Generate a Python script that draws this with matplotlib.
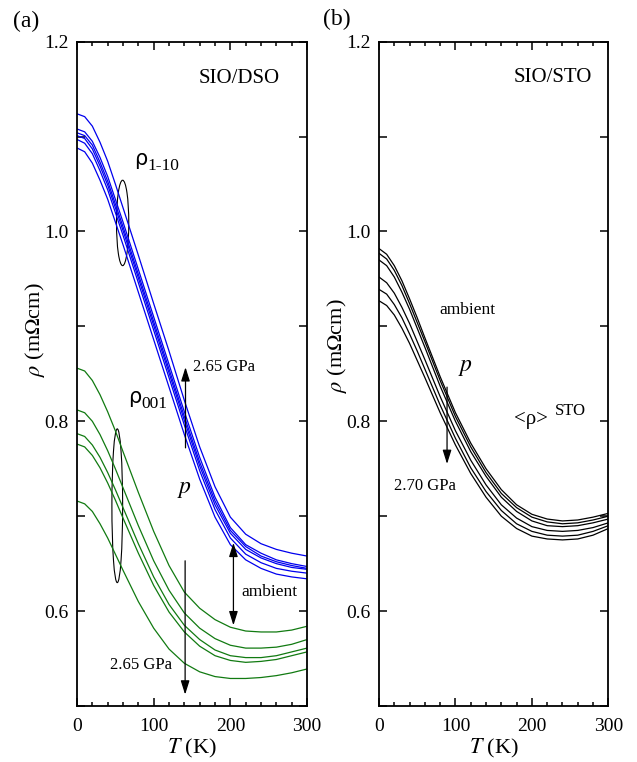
import matplotlib
matplotlib.use("Agg")
from matplotlib import pyplot as plt
from matplotlib.patches import Ellipse
import matplotlib.ticker as mtick

plt.rcParams['font.family'] = ['Liberation Serif', 'DejaVu Serif']
plt.rcParams['mathtext.fontset'] = 'stix'

# temperature grid (K) at which curves were read
temps = [0, 10, 20, 30, 40, 50, 60, 80, 100, 120, 140, 160, 180, 200, 220, 240, 260, 280, 300]

# SIO/DSO, rho_1-10 (blue), different pressures
rho_1m10 = [
    [1.124, 1.121, 1.111, 1.094, 1.074, 1.050, 1.025, 0.975, 0.924, 0.874, 0.822, 0.773, 0.731, 0.699, 0.681, 0.671, 0.665, 0.661, 0.658],
    [1.108, 1.105, 1.095, 1.078, 1.058, 1.034, 1.010, 0.960, 0.910, 0.860, 0.810, 0.762, 0.720, 0.688, 0.670, 0.661, 0.654, 0.650, 0.647],
    [1.104, 1.101, 1.091, 1.073, 1.053, 1.029, 1.005, 0.955, 0.905, 0.855, 0.805, 0.757, 0.716, 0.685, 0.668, 0.658, 0.652, 0.648, 0.645],
    [1.101, 1.098, 1.087, 1.069, 1.049, 1.025, 1.001, 0.951, 0.901, 0.851, 0.801, 0.753, 0.712, 0.682, 0.665, 0.656, 0.650, 0.646, 0.644],
    [1.097, 1.093, 1.082, 1.064, 1.044, 1.020, 0.996, 0.946, 0.896, 0.846, 0.796, 0.748, 0.707, 0.677, 0.660, 0.651, 0.645, 0.642, 0.640],
    [1.088, 1.084, 1.072, 1.054, 1.034, 1.010, 0.986, 0.936, 0.886, 0.836, 0.786, 0.739, 0.699, 0.670, 0.654, 0.645, 0.639, 0.636, 0.634],
]

# SIO/DSO, rho_001 (green)
rho_001 = [
    [0.856, 0.853, 0.843, 0.828, 0.810, 0.790, 0.768, 0.725, 0.684, 0.648, 0.620, 0.603, 0.591, 0.583, 0.579, 0.578, 0.578, 0.580, 0.584],
    [0.812, 0.809, 0.800, 0.786, 0.769, 0.750, 0.730, 0.690, 0.653, 0.622, 0.598, 0.582, 0.571, 0.564, 0.561, 0.561, 0.562, 0.565, 0.570],
    [0.787, 0.784, 0.775, 0.762, 0.746, 0.728, 0.709, 0.671, 0.636, 0.607, 0.585, 0.570, 0.559, 0.553, 0.551, 0.551, 0.553, 0.557, 0.561],
    [0.776, 0.773, 0.764, 0.751, 0.735, 0.717, 0.698, 0.661, 0.627, 0.599, 0.578, 0.563, 0.553, 0.548, 0.546, 0.547, 0.549, 0.553, 0.557],
    [0.716, 0.713, 0.705, 0.692, 0.677, 0.660, 0.643, 0.610, 0.582, 0.560, 0.545, 0.536, 0.531, 0.529, 0.529, 0.530, 0.532, 0.535, 0.539],
]

# SIO/STO, <rho> (black)
rho_sto = [
    [0.982, 0.976, 0.964, 0.948, 0.929, 0.909, 0.888, 0.847, 0.809, 0.777, 0.750, 0.728, 0.712, 0.702, 0.697, 0.695, 0.696, 0.699, 0.703],
    [0.977, 0.971, 0.959, 0.943, 0.924, 0.904, 0.884, 0.843, 0.805, 0.773, 0.746, 0.724, 0.709, 0.699, 0.694, 0.692, 0.693, 0.696, 0.700],
    [0.970, 0.964, 0.952, 0.936, 0.918, 0.898, 0.878, 0.837, 0.800, 0.768, 0.742, 0.720, 0.705, 0.695, 0.690, 0.689, 0.690, 0.693, 0.697],
    [0.952, 0.946, 0.935, 0.920, 0.903, 0.884, 0.865, 0.826, 0.790, 0.759, 0.733, 0.712, 0.698, 0.689, 0.685, 0.684, 0.685, 0.688, 0.693],
    [0.939, 0.934, 0.923, 0.909, 0.892, 0.874, 0.855, 0.817, 0.782, 0.751, 0.726, 0.706, 0.692, 0.684, 0.680, 0.679, 0.680, 0.684, 0.690],
    [0.927, 0.922, 0.912, 0.898, 0.882, 0.864, 0.846, 0.809, 0.775, 0.745, 0.720, 0.700, 0.687, 0.679, 0.676, 0.675, 0.676, 0.680, 0.687],
]

fig = plt.figure(figsize=(6.37, 7.62), dpi=100)
ax1 = fig.add_axes([0.1209, 0.0735, 0.3611, 0.8718])
ax2 = fig.add_axes([0.5950, 0.0735, 0.3600, 0.8718])

arrow = dict(arrowstyle="-|>,head_length=0.7,head_width=0.22", color="k", lw=0.9,
             mutation_scale=12, shrinkA=0, shrinkB=0)
darrow = dict(arrow, arrowstyle="<|-|>,head_length=0.7,head_width=0.22")


def style(ax):
    ax.set_xlim(0, 300)
    ax.set_ylim(0.5, 1.2)
    ax.xaxis.set_major_locator(mtick.FixedLocator([0, 100, 200, 300]))
    ax.xaxis.set_minor_locator(mtick.MultipleLocator(20))
    ax.yaxis.set_major_locator(mtick.FixedLocator([0.6, 0.8, 1.0, 1.2]))
    ax.yaxis.set_major_formatter(mtick.FormatStrFormatter("%.1f"))
    ax.yaxis.set_minor_locator(mtick.FixedLocator([0.5, 0.7, 0.9, 1.1]))
    ax.tick_params(which="both", direction="in", top=True, right=True, width=1.1, labelsize=14)
    ax.tick_params(axis="y", which="both", length=6, pad=6)
    ax.tick_params(axis="x", which="major", length=6, pad=9)
    ax.tick_params(axis="x", which="minor", length=3)
    for s in ax.spines.values():
        s.set_linewidth(1.3)
    ax.set_xlabel("$T$ (K)", fontsize=16)
    ax.set_ylabel(r"$\rho$ (m$\Omega$cm)", fontsize=16)
    ax.xaxis.set_label_coords(0.5, -0.046)


style(ax1)
style(ax2)
ax1.yaxis.set_label_coords(-0.13, 0.567)
ax2.yaxis.set_label_coords(-0.13, 0.543)

# panel (a)
for r in rho_1m10:
    ax1.plot(temps, r, color="#0000ee", lw=0.9)
for r in rho_001:
    ax1.plot(temps, r, color="#117a11", lw=0.9)

ax1.text(265, 1.161, "SIO/DSO", ha="right", va="center", fontsize=15)
ax1.add_patch(Ellipse((59.5, 1.009), 16, 0.090, fill=False, color="k", lw=0.8))
ax1.add_patch(Ellipse((52.5, 0.711), 14, 0.162, fill=False, color="k", lw=0.8))
ax1.text(74.5, 1.070, "ρ", ha="left", va="baseline", fontsize=15, family="DejaVu Sans")
ax1.text(91.5, 1.0646, "1-10", ha="left", va="baseline", fontsize=12.5)
ax1.text(66.5, 0.8197, "ρ", ha="left", va="baseline", fontsize=15, family="DejaVu Sans")
ax1.text(84.5, 0.8145, "001", ha="left", va="baseline", fontsize=12.5)

ax1.annotate("", xy=(141.5, 0.857), xytext=(141.5, 0.772), arrowprops=arrow)
ax1.text(151, 0.857, "2.65 GPa", ha="left", va="center", fontsize=12)
ax1.text(130, 0.728, "$p$", ha="left", va="center", fontsize=17)
ax1.annotate("", xy=(204, 0.672), xytext=(204, 0.585), arrowprops=darrow)
ax1.text(215, 0.620, "ambient", ha="left", va="center", fontsize=12.5)
ax1.annotate("", xy=(141, 0.512), xytext=(141, 0.653), arrowprops=arrow)
ax1.text(83, 0.543, "2.65 GPa", ha="center", va="center", fontsize=12)

# panel (b)
for r in rho_sto:
    ax2.plot(temps, r, color="k", lw=0.9)

ax2.text(278, 1.162, "SIO/STO", ha="right", va="center", fontsize=15)
ax2.text(79, 0.917, "ambient", ha="left", va="center", fontsize=12.5)
ax2.text(103, 0.857, "$p$", ha="left", va="center", fontsize=17)
ax2.annotate("", xy=(89, 0.755), xytext=(89, 0.836), arrowprops=arrow)
ax2.text(60, 0.732, "2.70 GPa", ha="center", va="center", fontsize=12)
ax2.text(177, 0.802, "<ρ>", ha="left", va="center", fontsize=15)
ax2.text(230, 0.811, "STO", ha="left", va="center", fontsize=12)

fig.text(13 / 637, 1 - 21 / 762, "(a)", ha="left", va="center", fontsize=17)
fig.text(323 / 637, 1 - 19 / 762, "(b)", ha="left", va="center", fontsize=17)

plt.savefig("out.png", dpi=100)
